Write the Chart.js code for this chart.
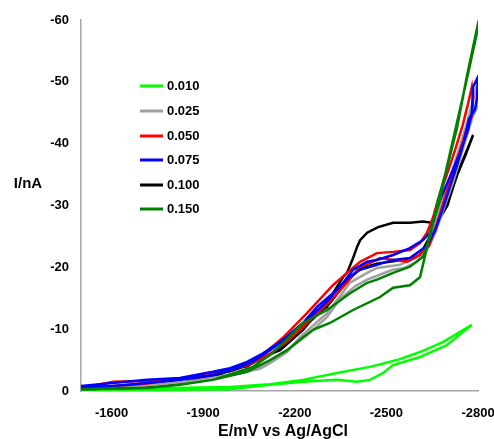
<!DOCTYPE html>
<html>
<head>
<meta charset="utf-8">
<script src="https://cdn.jsdelivr.net/npm/chart.js@4/dist/chart.umd.min.js"></script>
<style>
  html, body { margin: 0; padding: 0; background: #fff; }
  #wrap { width: 494px; height: 439px; position: relative; }
</style>
</head>
<body>
<div id="wrap"><canvas id="c" width="494" height="439"></canvas></div>
<script>
// Series labels (concentration) and colours
const labels = ['0.010', '0.025', '0.050', '0.075', '0.100', '0.150'];
const colors = ['#00ff00', '#a0a0a0', '#ff0000', '#0000ff', '#000000', '#008000'];

// Potential (mV) and current (nA) for each cyclic scan
const e010 = [-1500,-1791,-1988,-2119,-2227,-2338,-2446,-2535,-2610,-2685,-2780,-2698,-2610,-2522,-2489,-2446,-2404,-2338,-2227,-2119,-1988,-1791,-1500];
const i010 = [-0.3,-0.5,-0.65,-1.1,-1.8,-2.9,-3.9,-5.0,-6.3,-7.9,-10.7,-7.4,-5.5,-4.2,-2.9,-1.8,-1.5,-1.8,-1.5,-1.0,-0.3,-0.2,-0.2];

const e025 = [-1500,-1700,-1850,-1988,-2086,-2119,-2175,-2217,-2306,-2381,-2437,-2469,-2545,-2600,-2633,-2660,-2685,-2718,-2750,-2790,-2797,-2797,-2780,-2750,-2720,-2690,-2660,-2630,-2600,-2560,-2520,-2479,-2437,-2400,-2350,-2306,-2240,-2175,-2096,-2011,-1900,-1750,-1600,-1500];
const i025 = [-0.4,-0.9,-1.5,-2.6,-3.6,-4.5,-6.3,-8.7,-12.6,-17.5,-19.1,-19.9,-20.4,-21.7,-23.3,-27.0,-30.9,-36.0,-41.0,-48.0,-49.8,-45.9,-44.0,-39.0,-34.0,-29.8,-25.5,-22.5,-20.9,-19.9,-19.6,-18.8,-18.0,-17.0,-15.0,-12.0,-9.0,-6.6,-4.0,-2.8,-1.8,-1.0,-0.6,-0.3];

const e050 = [-1500,-1605,-1716,-1824,-1932,-2011,-2086,-2161,-2240,-2325,-2371,-2414,-2469,-2522,-2577,-2610,-2633,-2653,-2669,-2698,-2725,-2750,-2770,-2780,-2784,-2780,-2767,-2745,-2718,-2690,-2665,-2640,-2600,-2568,-2522,-2479,-2437,-2414,-2371,-2315,-2240,-2175,-2119,-2044,-1988,-1900,-1791,-1716,-1605,-1500];
const i050 = [-0.5,-1.5,-1.6,-2.0,-2.8,-3.7,-5.5,-8.6,-12.6,-17.1,-19.1,-20.9,-22.3,-22.5,-22.8,-23.9,-25.6,-28.1,-30.9,-35.0,-39.0,-43.0,-47.0,-49.2,-47.5,-44.5,-43.0,-39.5,-35.5,-31.0,-27.0,-23.5,-21.7,-20.9,-21.2,-21.5,-20.5,-20.1,-17.5,-14.5,-11.0,-8.0,-6.0,-4.2,-3.4,-2.6,-1.8,-1.2,-0.8,-0.4];

const e075 = [-1500,-1605,-1716,-1824,-1932,-1988,-2044,-2096,-2152,-2227,-2273,-2348,-2391,-2437,-2469,-2522,-2577,-2620,-2643,-2660,-2676,-2698,-2718,-2741,-2767,-2780,-2784,-2800,-2797,-2790,-2770,-2755,-2731,-2708,-2685,-2660,-2633,-2600,-2577,-2522,-2469,-2414,-2381,-2348,-2306,-2240,-2175,-2119,-2063,-2011,-1932,-1824,-1716,-1605,-1500];
const i075 = [-0.8,-1.3,-1.8,-2.1,-3.1,-3.7,-4.7,-6.1,-7.9,-11.0,-13.6,-16.8,-19.6,-20.9,-21.2,-22.0,-23.1,-24.4,-25.6,-28.5,-30.9,-33.5,-35.8,-38.5,-42.2,-45.0,-49.2,-50.8,-47.5,-45.5,-44.0,-40.5,-36.5,-33.0,-29.5,-26.0,-23.5,-22.3,-21.5,-21.2,-20.4,-19.6,-18.5,-17.0,-14.5,-11.5,-8.6,-6.6,-4.8,-3.7,-2.6,-1.8,-1.3,-0.8,-0.5];

const e100 = [-1500,-1605,-1716,-1824,-1932,-2011,-2044,-2096,-2152,-2227,-2273,-2306,-2325,-2358,-2371,-2391,-2404,-2414,-2437,-2473,-2522,-2577,-2620,-2649,-2676,-2700,-2731,-2760,-2784,-2760,-2731,-2700,-2676,-2643,-2610,-2577,-2522,-2469,-2414,-2371,-2315,-2240,-2175,-2119,-2044,-1988,-1900,-1791,-1700,-1600,-1500];
const i100 = [-0.3,-0.4,-0.6,-1.3,-2.3,-3.7,-4.0,-5.5,-6.6,-9.9,-12.6,-13.6,-15.8,-18.4,-19.1,-21.5,-23.3,-24.4,-25.6,-26.5,-27.2,-27.2,-27.4,-27.2,-28.0,-30.0,-35.0,-38.5,-41.4,-38.3,-34.8,-30.2,-28.0,-25.0,-22.0,-21.3,-21.0,-20.6,-19.8,-17.8,-14.2,-10.8,-7.9,-5.9,-4.1,-3.2,-2.4,-1.6,-1.1,-0.6,-0.3];

const e150 = [-1500,-1605,-1716,-1824,-1932,-2063,-2119,-2175,-2227,-2306,-2381,-2437,-2469,-2522,-2577,-2620,-2643,-2669,-2698,-2731,-2764,-2797,-2797,-2775,-2750,-2720,-2690,-2676,-2643,-2626,-2610,-2577,-2522,-2479,-2391,-2315,-2260,-2227,-2175,-2119,-2044,-1932,-1824,-1716,-1500];
const i150 = [-0.3,-0.5,-0.5,-1.0,-1.8,-3.9,-5.8,-8.4,-11.0,-13.1,-15.8,-17.5,-18.0,-19.1,-20.1,-21.7,-24.9,-30.9,-36.0,-42.5,-51.0,-58.7,-58.0,-53.0,-47.5,-41.0,-34.5,-30.9,-25.6,-21.7,-18.4,-17.1,-16.7,-15.2,-13.1,-11.0,-9.9,-8.7,-6.6,-5.0,-3.1,-1.8,-1.0,-0.5,-0.3];

// Axis ticks
const xTicks = [-1600, -1900, -2200, -2500, -2800];
const yTicks = [-60, -50, -40, -30, -20, -10, 0];

const seriesE = [e010, e025, e050, e075, e100, e150];
const seriesI = [i010, i025, i050, i075, i100, i150];
// drawing order (lower = on top)
const drawOrder = [6, 4, 3, 2, 5, 1];

const FONT = '"Liberation Sans", Arial, sans-serif';

const datasets = labels.map((lab, k) => ({
  label: lab,
  data: seriesE[k].map((e, j) => ({ x: e, y: seriesI[k][j] })),
  borderColor: colors[k],
  backgroundColor: colors[k],
  borderWidth: 2.5,
  pointRadius: 0,
  tension: 0,
  fill: false,
  order: drawOrder[k]
}));

const extras = {
  id: 'extras',
  afterDraw(chart) {
    const ctx = chart.ctx;
    ctx.save();
    // legend
    const ys = [86, 111, 136, 160, 185, 209];
    ctx.font = 'bold 13px ' + FONT;
    ctx.textBaseline = 'middle';
    ctx.textAlign = 'left';
    labels.forEach((lab, k) => {
      ctx.strokeStyle = colors[k];
      ctx.lineWidth = 3;
      ctx.beginPath();
      ctx.moveTo(140, ys[k]);
      ctx.lineTo(163, ys[k]);
      ctx.stroke();
      ctx.fillStyle = '#000';
      ctx.fillText(lab, 167, ys[k] + 0.5);
    });
    // axis titles
    ctx.font = 'bold 15px ' + FONT;
    ctx.textAlign = 'center';
    ctx.fillText('I/nA', 28, 184);
    ctx.font = 'bold 16px ' + FONT;
    ctx.fillText('E/mV vs Ag/AgCl', 283, 432);
    ctx.restore();
  }
};

new Chart(document.getElementById('c'), {
  type: 'line',
  data: { datasets },
  options: {
    responsive: false,
    animation: false,
    events: [],
    layout: { padding: { top: 20, right: 16, bottom: 0, left: 0 } },
    plugins: { legend: { display: false }, tooltip: { enabled: false } },
    scales: {
      x: {
        type: 'linear',
        reverse: true,
        min: -2800,
        max: -1500,
        afterBuildTicks(s) { s.ticks = xTicks.map(v => ({ value: v })); },
        afterFit(s) { s.height = 48; s.paddingLeft = 0; s.paddingRight = 0; },
        grid: { display: false, drawTicks: false },
        border: { display: true, color: '#a6a6a6', width: 1.5 },
        ticks: {
          color: '#000',
          padding: 15,
          maxRotation: 0,
          autoSkip: false,
          font: { family: FONT, size: 13, weight: 'bold' },
          callback: v => String(v)
        }
      },
      y: {
        type: 'linear',
        reverse: true,
        min: -60,
        max: 0,
        afterBuildTicks(s) { s.ticks = yTicks.map(v => ({ value: v })); },
        afterFit(s) { s.width = 81; },
        grid: { display: false, drawTicks: false },
        border: { display: true, color: '#a6a6a6', width: 1.5 },
        ticks: {
          color: '#000',
          padding: 12,
          font: { family: FONT, size: 13, weight: 'bold' },
          callback: v => String(v)
        }
      }
    }
  },
  plugins: [extras]
});
</script>
</body>
</html>
